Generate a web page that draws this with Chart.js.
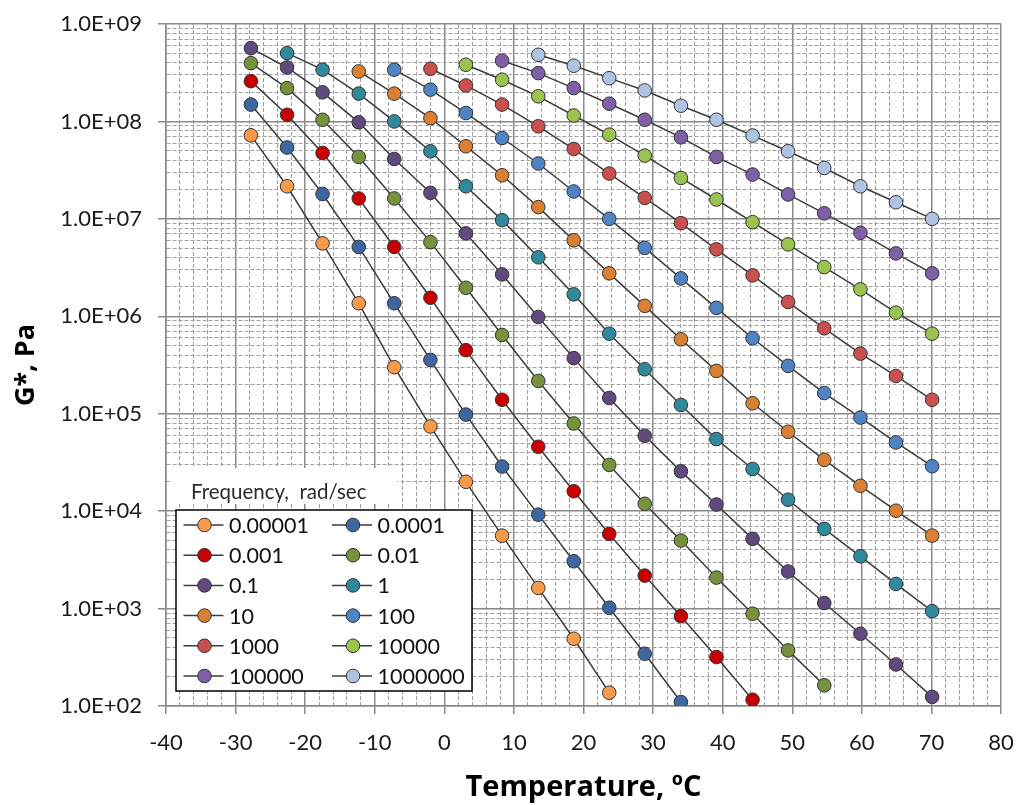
<!DOCTYPE html>
<html>
<head>
<meta charset="utf-8">
<script src="https://cdn.jsdelivr.net/npm/chart.js"></script>
<style>
  html, body { margin: 0; padding: 0; background: #fff; }
  canvas { display: block; }
</style>
</head>
<body>
<canvas id="gstar" width="1019" height="805"></canvas>
<script>
  // test temperatures, degC
  const temperatures = [-27.8, -22.6, -17.5, -12.3, -7.2, -2.0, 3.1, 8.3, 13.5, 18.6,
    23.7, 28.8, 34.0, 39.1, 44.3, 49.4, 54.6, 59.8, 64.9, 70.1]

  const frequencyLabels = ["0.00001", "0.0001", "0.001", "0.01", "0.1", "1",
    "10", "100", "1000", "10000", "100000", "1000000"]

  // G*, Pa for each frequency (null = not measured at that temperature)
  const g_00001 = [7.2e7, 2.16e7, 5.6e6, 1.36e6, 3.0e5, 7.4e4, 2.0e4, 5.6e3, 1.63e3, 490,
    137, null, null, null, null, null, null, null, null, null]
  const g_0001 = [1.49e8, 5.4e7, 1.8e7, 5.15e6, 1.36e6, 3.57e5, 9.8e4, 2.87e4, 9.2e3, 3.06e3,
    1.02e3, 344, 110, null, null, null, null, null, null, null]
  const g_001 = [2.59e8, 1.17e8, 4.75e7, 1.62e7, 5.15e6, 1.55e6, 4.49e5, 1.39e5, 4.58e4, 1.6e4,
    5.84e3, 2.18e3, 836, 318, 116, null, null, null, null, null]
  const g_01 = [3.97e8, 2.2e8, 1.04e8, 4.32e7, 1.62e7, 5.77e6, 1.96e6, 6.43e5, 2.17e5, 7.94e4,
    2.98e4, 1.19e4, 4.99e3, 2.08e3, 885, 372, 163, null, null, null]
  const g_1 = [5.65e8, 3.58e8, 1.99e8, 9.79e7, 4.12e7, 1.85e7, 7.09e6, 2.69e6, 9.84e5, 3.72e5,
    1.45e5, 5.94e4, 2.56e4, 1.17e4, 5.19e3, 2.4e3, 1.14e3, 552, 267, 124]
  const g_1e0 = [null, 5.02e8, 3.4e8, 1.93e8, 1.0e8, 4.94e7, 2.16e7, 9.7e6, 4.03e6, 1.68e6,
    6.63e5, 2.86e5, 1.23e5, 5.49e4, 2.71e4, 1.31e4, 6.57e3, 3.44e3, 1.79e3, 940]
  const g_1e1 = [null, null, null, 3.26e8, 1.93e8, 1.08e8, 5.56e7, 2.8e7, 1.32e7, 6.02e6,
    2.76e6, 1.28e6, 5.81e5, 2.75e5, 1.28e5, 6.53e4, 3.36e4, 1.82e4, 1.01e4, 5.61e3]
  const g_1e2 = [null, null, null, null, 3.4e8, 2.12e8, 1.22e8, 6.76e7, 3.7e7, 1.91e7,
    1.0e7, 5.04e6, 2.45e6, 1.22e6, 5.95e5, 3.1e5, 1.63e5, 9.14e4, 5.07e4, 2.89e4]
  const g_1e3 = [null, null, null, null, null, 3.47e8, 2.34e8, 1.49e8, 8.91e7, 5.21e7,
    2.92e7, 1.64e7, 9.04e6, 4.86e6, 2.63e6, 1.4e6, 7.53e5, 4.14e5, 2.44e5, 1.39e5]
  const g_1e4 = [null, null, null, null, null, null, 3.82e8, 2.68e8, 1.81e8, 1.15e8,
    7.32e7, 4.46e7, 2.63e7, 1.58e7, 9.25e6, 5.47e6, 3.2e6, 1.89e6, 1.09e6, 6.63e5]
  const g_1e5 = [null, null, null, null, null, null, null, 4.2e8, 3.13e8, 2.2e8,
    1.52e8, 1.04e8, 6.87e7, 4.32e7, 2.85e7, 1.78e7, 1.14e7, 7.19e6, 4.42e6, 2.76e6]
  const g_1e6 = [null, null, null, null, null, null, null, null, 4.83e8, 3.73e8,
    2.78e8, 2.08e8, 1.45e8, 1.04e8, 7.16e7, 4.94e7, 3.33e7, 2.16e7, 1.48e7, 1.0e7]

  const seriesValues = [g_00001, g_0001, g_001, g_01, g_1, g_1e0,
    g_1e1, g_1e2, g_1e3, g_1e4, g_1e5, g_1e6]

  const markerColors = [
    "#F79B4B", "#3C67A0", "#C80000", "#76923C", "#60497E", "#31899D",
    "#D98032", "#4F84C4", "#C9504F", "#9BC34F", "#7F5FA8", "#AFC4E3"
  ]

  const xMin = -40
  const xMax = 80
  const yMin = 1e2
  const yMax = 1e9

  const FONT = "Lato, 'Open Sans', sans-serif"
  const TITLE_FONT = "'Open Sans', Lato, sans-serif"
  const MAJOR_GRID = "#8a8a8a"
  const MINOR_GRID = "#a0a0a0"

  const isDecade = v => {
    const e = Math.round(Math.log10(v))
    return Math.abs(v - Math.pow(10, e)) < v * 1e-6
  }
  const isMajorX = v => Math.abs(v % 10) < 1e-9

  const datasets = seriesValues.map((values, idx) => ({
    label: frequencyLabels[idx],
    data: temperatures.map((t, i) => ({x: t, y: values[i]})).filter(p => p.y !== null),
    showLine: true,
    borderColor: "#3c3c3c",
    borderWidth: 1.5,
    pointRadius: 6.8,
    pointHoverRadius: 6.8,
    pointBorderWidth: 1,
    pointBorderColor: "#333333",
    pointBackgroundColor: markerColors[idx],
    backgroundColor: markerColors[idx],
  }))

  // boxed two-column legend with its title sitting above the box
  const freqLegend = {
    id: "freqLegend",
    afterDraw(chart) {
      const ctx = chart.ctx
      ctx.save()
      ctx.fillStyle = "#fff"
      ctx.fillRect(170, 468, 227, 36)
      ctx.font = "20.5px " + FONT
      ctx.fillStyle = "#2b2b2b"
      ctx.textBaseline = "middle"
      ctx.textAlign = "left"
      ctx.fillText("Frequency,  rad/sec", 191, 492)

      ctx.fillStyle = "#fff"
      ctx.fillRect(176, 510, 296, 181)
      ctx.strokeStyle = "#000"
      ctx.lineWidth = 1.5
      ctx.strokeRect(176, 510, 296, 181)

      ctx.font = "21.5px " + FONT
      chart.data.datasets.forEach((ds, i) => {
        const cx = i % 2 === 0 ? 204.5 : 353
        const cy = 525 + Math.floor(i / 2) * 30.2
        ctx.strokeStyle = "#3c3c3c"
        ctx.lineWidth = 1.5
        ctx.beginPath()
        ctx.moveTo(cx - 21, cy)
        ctx.lineTo(cx + 19, cy)
        ctx.stroke()
        ctx.beginPath()
        ctx.arc(cx, cy, 6.8, 0, Math.PI * 2)
        ctx.fillStyle = ds.pointBackgroundColor
        ctx.fill()
        ctx.lineWidth = 1
        ctx.strokeStyle = "#333"
        ctx.stroke()
        ctx.fillStyle = "#111"
        ctx.fillText(ds.label, cx + 24.5, cy + 1)
      })
      ctx.restore()
    }
  }

  new Chart(document.getElementById("gstar").getContext("2d"), {
    type: "scatter",
    data: {datasets: datasets},
    plugins: [freqLegend],
    options: {
      responsive: false,
      animation: false,
      devicePixelRatio: 1,
      layout: {padding: {top: 24, right: 18, left: 0, bottom: 0}},
      plugins: {
        legend: {display: false},
        tooltip: {enabled: false}
      },
      scales: {
        x: {
          type: "linear",
          min: xMin,
          max: xMax,
          afterFit: scale => {
            scale.height = 99
            // keep the tick padding from eating into the plot width
            scale.paddingLeft = 0
            scale.paddingRight = 13
          },
          ticks: {
            stepSize: 2,
            autoSkip: false,
            maxRotation: 0,
            padding: 16,
            color: "#1a1a1a",
            font: {family: FONT, size: 22},
            callback: v => isMajorX(v) ? String(v) : ""
          },
          grid: {
            tickLength: 8,
            color: ctx => isMajorX(ctx.tick.value) ? MAJOR_GRID : MINOR_GRID,
            lineWidth: ctx => isMajorX(ctx.tick.value) ? 1.5 : 1,
            tickColor: ctx => isMajorX(ctx.tick.value) ? MAJOR_GRID : "rgba(0,0,0,0)",
          },
          border: {
            color: MAJOR_GRID,
            width: 1.5,
            dash: ctx => (ctx.tick && !isMajorX(ctx.tick.value)) ? [4, 2] : []
          },
          title: {
            display: true,
            text: "Temperature, ºC",
            color: "#000",
            font: {family: TITLE_FONT, size: 29, weight: "bold"},
            padding: {top: 0, bottom: 0}
          }
        },
        y: {
          type: "logarithmic",
          min: yMin,
          max: yMax,
          afterFit: scale => {
            scale.width = 166
            scale.paddingTop = 0
            scale.paddingBottom = 0
          },
          afterBuildTicks: scale => {
            const ticks = []
            for (let e = Math.log10(yMin); e < Math.log10(yMax); e++) {
              for (let m = 1; m < 10; m++) ticks.push({value: m * Math.pow(10, e)})
            }
            ticks.push({value: yMax})
            scale.ticks = ticks
          },
          ticks: {
            autoSkip: false,
            padding: 16,
            color: "#1a1a1a",
            font: {family: FONT, size: 22},
            callback: v => isDecade(v)
              ? "1.0E+" + String(Math.round(Math.log10(v))).padStart(2, "0")
              : ""
          },
          grid: {
            tickLength: 8,
            color: ctx => isDecade(ctx.tick.value) ? MAJOR_GRID : MINOR_GRID,
            lineWidth: ctx => isDecade(ctx.tick.value) ? 1.5 : 1,
            tickColor: ctx => isDecade(ctx.tick.value) ? MAJOR_GRID : "rgba(0,0,0,0)",
          },
          border: {
            color: MAJOR_GRID,
            width: 1.5,
            dash: ctx => (ctx.tick && !isDecade(ctx.tick.value)) ? [4, 2] : []
          },
          title: {
            display: true,
            text: "G*, Pa",
            color: "#000",
            font: {family: TITLE_FONT, size: 27, weight: "bold"},
            padding: {top: 10, bottom: 0}
          }
        }
      }
    }
  })
</script>
</body>
</html>
